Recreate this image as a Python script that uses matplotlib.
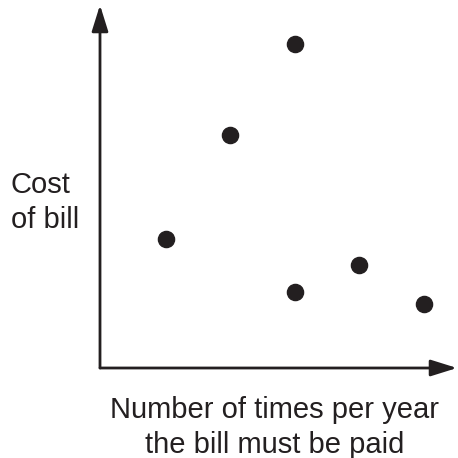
import matplotlib
matplotlib.use("Agg")
import matplotlib.pyplot as plt

plt.rcParams['font.family'] = ['Liberation Sans', 'DejaVu Sans']

x_vals = [1, 2, 3, 3, 4, 5]
y_vals = [12.9, 23.3, 32.4, 7.6, 10.3, 6.4]
x_label = "Number of times per year\nthe bill must be paid"
y_label = "Cost\nof bill"

W = 458
fig = plt.figure(figsize=(4.58, 4.58), dpi=100)
ax = fig.add_axes([100 / W, 90 / W, 357 / W, 363 / W])
ax.set_xlim(-0.023, 5.512)
ax.set_ylim(0, 36.3)
for s in ax.spines.values():
    s.set_visible(False)
ax.set_xticks([])
ax.set_yticks([])
ax.patch.set_alpha(0)

col = '#231f20'
ax.scatter(x_vals, y_vals, s=135, color=col, zorder=3)

ap = dict(arrowstyle='-|>,head_length=1.6,head_width=0.5', color=col, lw=2,
          shrinkA=0, shrinkB=0)
ax.annotate('', xy=(0, 1), xytext=(0, 0), xycoords='axes fraction', arrowprops=ap)
ax.annotate('', xy=(1, 0), xytext=(0, 0), xycoords='axes fraction', arrowprops=ap)

fig.text(275 / W, 1 - 453 / W, x_label, ha='center', va='baseline', fontsize=21,
         color=col, linespacing=1.32, multialignment='center')
fig.text(11 / W, 1 - 228 / W, y_label, ha='left', va='baseline', fontsize=21,
         color=col, linespacing=1.3, multialignment='left')

fig.savefig('out.png', dpi=100)
